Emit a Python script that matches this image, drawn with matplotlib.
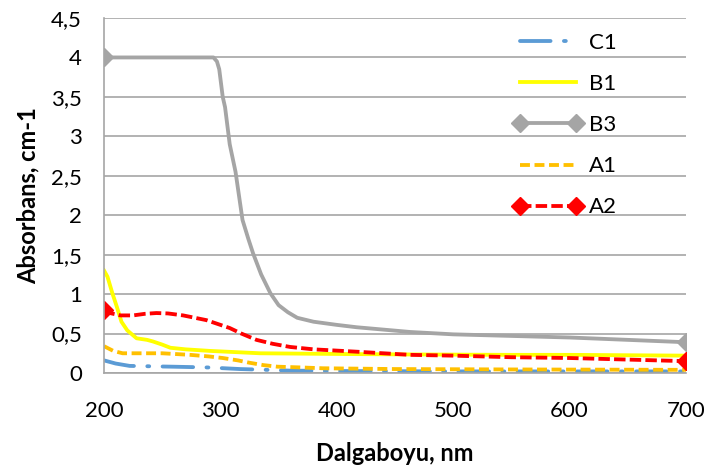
import matplotlib
matplotlib.use("Agg")
import matplotlib.pyplot as plt

plt.rcParams['font.family'] = ['Lato', 'DejaVu Sans']

# ---- data ----
c1_x = [200, 210, 222, 240, 259, 275, 290, 317, 340, 360, 400, 500, 600, 700]
c1_y = [0.16, 0.12, 0.09, 0.085, 0.08, 0.075, 0.07, 0.05, 0.04, 0.03, 0.025, 0.02, 0.02, 0.02]

b1_x = [200, 203, 207, 211, 215, 220, 228, 237, 242, 250, 257, 270, 291, 334, 411, 463, 550, 600, 650, 700]
b1_y = [1.30, 1.22, 1.02, 0.84, 0.65, 0.54, 0.44, 0.42, 0.40, 0.36, 0.32, 0.30, 0.28, 0.25, 0.24, 0.235, 0.23, 0.23, 0.225, 0.22]

b3_x = [200, 250, 294, 297, 299, 302, 304, 308, 313, 319, 324, 328, 335, 343, 350, 358, 366, 380, 400, 417, 440, 463, 500, 550, 600, 650, 700]
b3_y = [4.0, 4.0, 4.0, 3.95, 3.85, 3.5, 3.37, 2.9, 2.55, 1.94, 1.7, 1.52, 1.25, 1.01, 0.86, 0.77, 0.70, 0.65, 0.61, 0.58, 0.55, 0.52, 0.49, 0.47, 0.45, 0.42, 0.39]

a1_x = [200, 208, 216, 235, 250, 274, 290, 302, 315, 325, 337, 349, 370, 388, 450, 550, 700]
a1_y = [0.34, 0.28, 0.25, 0.25, 0.25, 0.23, 0.21, 0.19, 0.16, 0.13, 0.10, 0.08, 0.07, 0.06, 0.05, 0.045, 0.04]

a2_x = [200, 205, 214, 225, 235, 245, 255, 268, 278, 288, 298, 308, 318, 331, 345, 360, 380, 417, 463, 500, 550, 600, 650, 700]
a2_y = [0.80, 0.76, 0.73, 0.73, 0.75, 0.76, 0.755, 0.73, 0.70, 0.67, 0.62, 0.57, 0.50, 0.42, 0.37, 0.33, 0.30, 0.27, 0.23, 0.22, 0.20, 0.19, 0.17, 0.15]

x_ticks = [200, 300, 400, 500, 600, 700]
y_ticks = [0, 0.5, 1, 1.5, 2, 2.5, 3, 3.5, 4, 4.5]
y_tick_labels = ['0', '0,5', '1', '1,5', '2', '2,5', '3', '3,5', '4', '4,5']

# ---- figure ----
fig = plt.figure(figsize=(7.10, 4.68), dpi=100)
ax = fig.add_axes([104/710, 1-373/468, (686-104)/710, (373-18)/468])

lw = 2.75
ax.plot(c1_x, c1_y, color='#5B9BD5', lw=lw, linestyle=(0, (8, 3.5, 0.5, 3.5)),
        solid_capstyle='round', dash_capstyle='round', label='C1')
ax.plot(b1_x, b1_y, color='#FFFF00', lw=lw, label='B1')
ax.plot(b3_x, b3_y, color='#A5A5A5', lw=lw, marker='D', ms=9, markevery=[0, -1], label='B3')
ax.plot(a1_x, a1_y, color='#FFC000', lw=lw, linestyle=(0, (2.6, 1.2)), label='A1')
ax.plot(a2_x, a2_y, color='#FF0000', lw=lw, linestyle=(0, (3.0, 1.1)),
        marker='D', ms=9, markevery=[0, -1], label='A2')

ax.set_xlim(200, 700)
ax.set_ylim(0, 4.5)
ax.set_xticks(x_ticks)
ax.set_yticks(y_ticks)
ax.set_yticklabels(y_tick_labels)
ax.tick_params(axis='both', length=0, labelsize=16)
ax.tick_params(axis='x', pad=20)
ax.tick_params(axis='y', pad=16)
ax.yaxis.grid(True, color='#A6A6A6', lw=1.2)
ax.set_axisbelow(True)
for s in ['top', 'right']:
    ax.spines[s].set_visible(False)
for s in ['left', 'bottom']:
    ax.spines[s].set_color('#A6A6A6')
    ax.spines[s].set_linewidth(1.2)

ax.set_xlabel('Dalgaboyu, nm', fontsize=17, fontweight='bold', labelpad=15)
ax.set_ylabel('Absorbans, cm-1', fontsize=17, fontweight='bold', labelpad=8)

leg = fig.legend(*ax.get_legend_handles_labels(), loc='upper left',
                 bbox_to_anchor=(513/710, 1-33/468), frameon=False, fontsize=16,
                 numpoints=2, handlelength=3.15, handletextpad=0.25, labelspacing=0.95,
                 borderaxespad=0, borderpad=0)

fig.savefig('out.png', dpi=100)
